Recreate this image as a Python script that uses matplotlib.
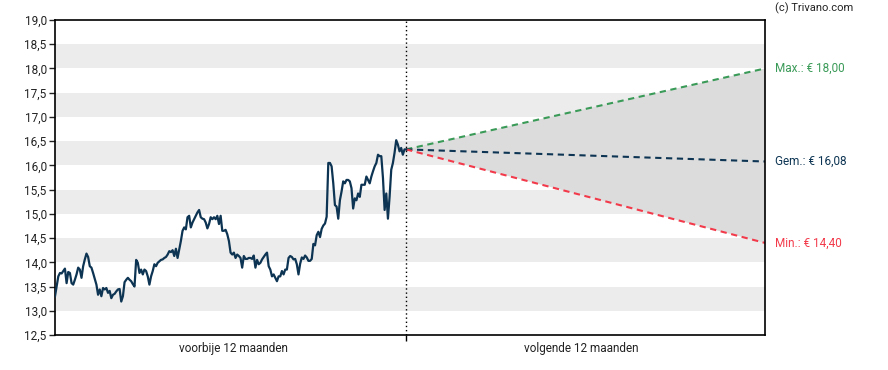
import matplotlib.pyplot as plt
from matplotlib.ticker import FuncFormatter
import numpy as np

# koers afgelopen 12 maanden (ca. gelijke stappen)
price = [
    13.30, 13.50, 13.71, 13.78, 13.77, 13.82, 13.87, 13.57, 13.80, 13.78,
    13.57, 13.54, 13.64, 13.75, 13.89, 13.85, 13.68, 13.92, 14.06, 14.18,
    14.11, 13.92, 13.89, 13.78, 13.66, 13.54, 13.33, 13.44, 13.30, 13.47,
    13.44, 13.47, 13.37, 13.41, 13.26, 13.33, 13.35, 13.40, 13.44, 13.45,
    13.19, 13.30, 13.59, 13.64, 13.68, 13.64, 13.61, 13.55, 13.50, 14.05,
    13.99, 13.78, 13.85, 13.75, 13.85, 13.82, 13.71, 13.54, 13.71, 13.82,
    13.96, 13.92, 13.99, 14.02, 14.05, 14.06, 14.09, 14.11, 14.16, 14.23,
    14.21, 14.25, 14.13, 14.28, 14.09, 14.27, 14.44, 14.65, 14.72, 14.68,
    14.93, 14.96, 14.72, 14.82, 14.89, 14.96, 15.03, 15.08, 14.93, 14.90,
    14.89, 14.82, 14.70, 14.79, 14.93, 14.89, 14.93, 14.89, 14.96, 14.79,
    14.96, 14.65, 14.65, 14.67, 14.58, 14.44, 14.20, 14.16, 14.20, 14.09,
    14.16, 14.13, 14.09, 13.89, 14.13, 14.07, 14.07, 14.09, 14.09, 14.07,
    14.14, 13.89, 14.05, 13.96, 13.99, 14.06, 14.11, 14.16, 14.20, 13.92,
    13.85, 13.71, 13.75, 13.68, 13.61, 13.71, 13.71, 13.82, 13.75, 13.85,
    13.85, 14.09, 14.13, 14.11, 14.06, 14.07, 13.96, 13.75,
    13.97, 14.10, 14.07, 14.14, 14.10, 14.03, 14.03, 14.07,
    14.38, 14.35, 14.56, 14.63, 14.52, 14.69, 14.76, 14.80, 14.94, 16.05,
    16.05, 15.98, 15.63, 15.18, 15.15, 14.90, 15.28, 15.46, 15.67, 15.63,
    15.70, 15.70, 15.67, 15.53, 15.11, 15.32, 15.28, 15.42, 15.35, 15.60,
    15.60, 15.60, 15.77, 15.70, 15.63, 15.77, 15.88, 15.98, 16.05, 16.22,
    16.19, 16.19, 15.74, 15.08, 15.42, 14.90, 15.35, 15.91, 16.05, 16.26,
    16.52, 16.43, 16.29, 16.36, 16.22, 16.33, 16.33,
]

# koersdoelen over 12 maanden
target_max = 18.00
target_avg = 16.08
target_min = 14.40

band_starts = [13.0, 14.0, 15.0, 16.0, 17.0, 18.0]
y_ticks = np.arange(12.5, 19.01, 0.5)

past_days = 365
horizon = 373

navy = '#0d3553'
green = '#3a9a57'
red = '#f23a4b'

plt.rcParams['font.family'] = ['Roboto', 'DejaVu Sans']

fig = plt.figure(figsize=(8.88, 3.70), dpi=100)
ax = fig.add_axes([55 / 888, 35 / 370, 710 / 888, 315 / 370])

for b in band_starts:
    ax.axhspan(b, b + 0.5, color='#ececec', lw=0, zorder=0)

days = np.linspace(-past_days, 0, len(price))
last = price[-1]

# waaier van de prognose
ax.fill([0, horizon, horizon], [last, target_max, target_min], color='#dcdcdc', lw=0, zorder=1)
ax.plot([0, horizon], [last, target_max], color=green, lw=1.5, dashes=(3, 2.2), zorder=2)
ax.plot([0, horizon], [last, target_avg], color=navy, lw=1.5, dashes=(3, 2.2), zorder=2)
ax.plot([0, horizon], [last, target_min], color=red, lw=1.5, dashes=(3, 2.2), zorder=2)

ax.plot(days, price, color=navy, lw=1.6, zorder=3, solid_joinstyle='round')
ax.axvline(0, color='black', lw=1, ls=(0, (1, 2)), zorder=4)

ax.set_xlim(-past_days, horizon)
ax.set_ylim(12.5, 19.0)
ax.set_yticks(y_ticks)
ax.yaxis.set_major_formatter(FuncFormatter(lambda v, p: f'{v:.1f}'.replace('.', ',')))
ax.tick_params(axis='y', labelsize=8.5, length=4, width=1, pad=2, colors='#222222')

ax.set_xticks([0])
ax.set_xticklabels([''])
ax.set_xticks([-180, 182], minor=True)
ax.set_xticklabels(['voorbije 12 maanden', 'volgende 12 maanden'], minor=True)
ax.tick_params(axis='x', which='major', length=4, width=1)
ax.tick_params(axis='x', which='minor', length=0, labelsize=8.5, pad=5, colors='#222222')

for s in ax.spines.values():
    s.set_linewidth(1.2)
    s.set_color('black')

def fmt(v):
    return f'{v:.2f}'.replace('.', ',')

tx = horizon + 10 * (past_days + horizon) / 710
ax.text(tx, target_max, f'Max.: € {fmt(target_max)}', color=green, fontsize=8.5, va='center', ha='left', clip_on=False)
ax.text(tx, target_avg, f'Gem.: € {fmt(target_avg)}', color=navy, fontsize=8.5, va='center', ha='left', clip_on=False)
ax.text(tx, target_min, f'Min.: € {fmt(target_min)}', color=red, fontsize=8.5, va='center', ha='left', clip_on=False)

fig.text(775 / 888, 1 - 8 / 370, '(c) Trivano.com', fontsize=8, color='#222222', ha='left', va='center')

fig.savefig('out.png', dpi=100)
plt.close()
